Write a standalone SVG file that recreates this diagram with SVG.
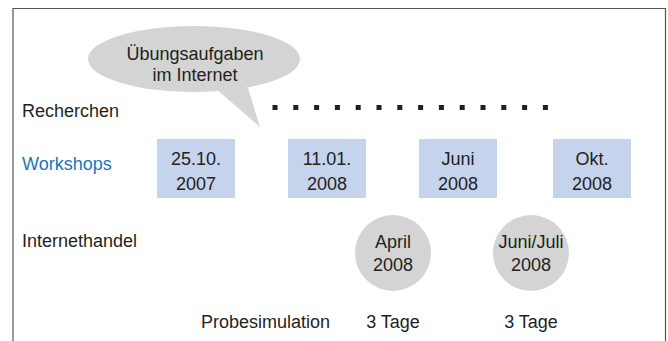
<svg xmlns="http://www.w3.org/2000/svg" width="668" height="341" viewBox="0 0 668 341">
<style>
text{font-family:"Liberation Sans",Arial,sans-serif;font-size:18px;fill:#231f20}
.c{text-anchor:middle}
.box{fill:#c6d3ec}
.circ{fill:#d4d4d4}
.dot{fill:#231f20}
</style>
<rect width="668" height="341" fill="#fff"/>
<path d="M13,341 V8.5 H665.5 V341" fill="none" stroke="#555" stroke-width="1.2"/>
<g id="bubble">
<path d="M215,88 L260,127 L248,88 Z" fill="#d4d4d4"/>
<ellipse cx="194" cy="59" rx="106" ry="33" fill="#d4d4d4"/>
<text class="c" x="195" y="60">Übungsaufgaben</text>
<text class="c" x="195" y="81">im Internet</text>
</g>
<g id="labels">
<text x="22" y="117">Recherchen</text>
<text x="22" y="170" style="fill:#1a75bb">Workshops</text>
<text x="22" y="247">Internethandel</text>
<text x="201" y="328">Probesimulation</text>
</g>
<g id="dots">
<rect class="dot" x="272.5" y="105" width="5" height="5"/>
<rect class="dot" x="293.3" y="105" width="5" height="5"/>
<rect class="dot" x="314.1" y="105" width="5" height="5"/>
<rect class="dot" x="334.9" y="105" width="5" height="5"/>
<rect class="dot" x="355.7" y="105" width="5" height="5"/>
<rect class="dot" x="376.5" y="105" width="5" height="5"/>
<rect class="dot" x="397.3" y="105" width="5" height="5"/>
<rect class="dot" x="418.1" y="105" width="5" height="5"/>
<rect class="dot" x="438.9" y="105" width="5" height="5"/>
<rect class="dot" x="459.7" y="105" width="5" height="5"/>
<rect class="dot" x="480.5" y="105" width="5" height="5"/>
<rect class="dot" x="501.3" y="105" width="5" height="5"/>
<rect class="dot" x="522.1" y="105" width="5" height="5"/>
<rect class="dot" x="542.9" y="105" width="5" height="5"/>
</g>
<g id="ws1"><rect class="box" x="157" y="139" width="78" height="59"/><text class="c" x="196" y="165">25.10.</text><text class="c" x="196" y="190">2007</text></g>
<g id="ws2"><rect class="box" x="288" y="139" width="78" height="59"/><text class="c" x="327" y="165">11.01.</text><text class="c" x="327" y="190">2008</text></g>
<g id="ws3"><rect class="box" x="419" y="139" width="78" height="59"/><text class="c" x="458" y="165">Juni</text><text class="c" x="458" y="190">2008</text></g>
<g id="ws4"><rect class="box" x="553" y="139" width="78" height="59"/><text class="c" x="592" y="165">Okt.</text><text class="c" x="592" y="190">2008</text></g>
<g id="ih1"><circle class="circ" cx="393" cy="253" r="38"/><text class="c" x="393" y="248">April</text><text class="c" x="393" y="271">2008</text></g>
<g id="ih2"><circle class="circ" cx="531" cy="253" r="38"/><text class="c" x="531" y="248">Juni/Juli</text><text class="c" x="531" y="271">2008</text></g>
<g id="ps"><text class="c" x="393" y="328">3 Tage</text><text class="c" x="531" y="328">3 Tage</text></g>
<g id="connectors"></g>
</svg>
